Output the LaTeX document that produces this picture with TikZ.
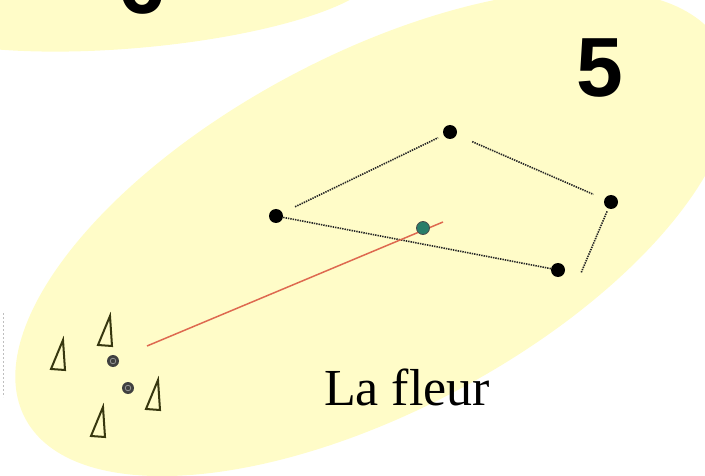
\documentclass[tikz,border=0pt]{standalone}
\usepackage{fontspec}
\setmainfont{Liberation Serif}
\newfontfamily\digitfont{Liberation Sans}
\definecolor{pale}{RGB}{255,252,200}
\definecolor{seed}{RGB}{40,125,105}
\definecolor{ray}{RGB}{222,105,80}
\definecolor{olive}{RGB}{55,55,15}
\begin{document}
\begin{tikzpicture}[x=1pt, y=-1pt,
  dot/.style={circle, fill=black, inner sep=0pt, minimum size=14pt},
  link/.style={draw=black!85, line width=1.6pt, dash pattern=on 1.4pt off 1pt},
  ring/.style={circle, fill=black!75, inner sep=0pt, minimum size=12pt,
    path picture={\draw[black!35, line width=0.6pt] (path picture bounding box.center) circle (2.8pt);}},
  delta/.pic={\draw[olive, line width=2pt] (0,0) -- (-2,-30) -- (-14,-1) -- cycle;},
  big/.style={font=\digitfont\bfseries\fontsize{84}{84}\selectfont, inner sep=0pt}]
\useasboundingbox (0,0) rectangle (705,476);
\clip (0,0) rectangle (705,476);
% the two zones
\fill[pale, rotate around={5:(135,-10)}] (135,-10) ellipse [x radius=245pt, y radius=58pt];
\fill[pale, rotate around={28:(374,233)}] (374,233) ellipse [x radius=395pt, y radius=178pt];
\node[big] (six)  at (142,-15) {6};
\node[big] (five) at (600,68)  {5};
% cut edge on the left
\coordinate (e1) at (3,313);
\coordinate (e2) at (3,397);
\draw[black!25, line width=1pt, dash pattern=on 2pt off 2pt] (e1) -- (e2);
% the flower
\node[dot] (a) at (276,216) {};
\node[dot] (b) at (450,132) {};
\node[dot] (c) at (611,202) {};
\node[dot] (d) at (558,270) {};
\coordinate (dc) at (581,273);
\draw[link, shorten <=14pt, shorten >=6pt] (a) -- (b);
\draw[link, shorten <=17pt, shorten >=12pt] (b) -- (c);
\draw[link, shorten <=3pt] (c) -- (dc);
\draw[link] (d) -- (a);
\coordinate (src) at (147,346);
\coordinate (tip) at (443,222);
\draw[ray, line width=1.5pt] (src) -- (tip);
\node[circle, fill=seed, draw=black!70, line width=0.8pt, inner sep=0pt, minimum size=13pt] (m) at (423,228) {};
% the bud
\pic at (65,370)  {delta};
\pic at (112,346) {delta};
\pic at (160,410) {delta};
\pic at (105,437) {delta};
\node[ring] (r1) at (113,361) {};
\node[ring] (r2) at (128,388) {};
\node[font=\fontsize{52}{52}\selectfont, anchor=base, inner sep=0pt] (name) at (407,405) {La fleur};
\end{tikzpicture}
\end{document}
